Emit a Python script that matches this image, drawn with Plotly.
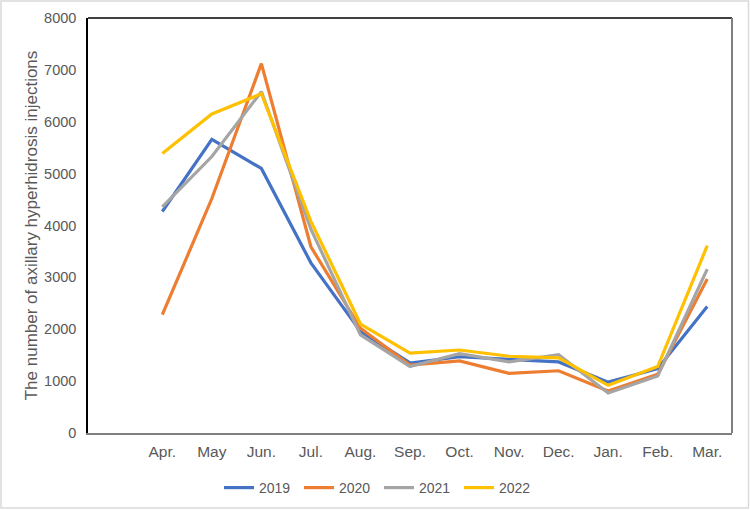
import plotly.graph_objects as go

months = ["Apr.", "May", "Jun.", "Jul.", "Aug.", "Sep.", "Oct.", "Nov.", "Dec.", "Jan.", "Feb.", "Mar."]
y2019 = [4270, 5660, 5100, 3280, 1960, 1350, 1470, 1420, 1370, 980, 1240, 2440]
y2020 = [2280, 4520, 7120, 3590, 2020, 1310, 1390, 1150, 1200, 810, 1130, 2970]
y2021 = [4360, 5330, 6580, 3930, 1890, 1280, 1530, 1370, 1510, 770, 1100, 3160]
y2022 = [5390, 6150, 6540, 4080, 2100, 1540, 1600, 1480, 1450, 920, 1280, 3610]

series = [("2019", y2019, "#4472C4"), ("2020", y2020, "#ED7D31"),
          ("2021", y2021, "#A5A5A5"), ("2022", y2022, "#FFC000")]

fig = go.Figure()
for name, vals, col in series:
    fig.add_trace(go.Scatter(x=months, y=vals, name=name, mode="lines",
                             line=dict(color=col, width=3.2)))

L, R, T, B = 88, 732, 18, 433
W, H = R - L, B - T
def px(x): return (x - L) / W
def py(y): return (B - y) / H

fig.update_layout(
    width=750, height=510,
    margin=dict(l=L, r=750 - R, t=T, b=510 - B, autoexpand=False),
    paper_bgcolor="white", plot_bgcolor="white",
    font=dict(family="Liberation Sans, Arial, sans-serif", color="#595959", size=13),
    showlegend=True,
    legend=dict(orientation="h", x=px(219), xanchor="left", y=py(488), yanchor="middle",
                font=dict(size=14, color="#595959"), entrywidth=35, entrywidthmode="pixels",
                itemwidth=30, bgcolor="rgba(0,0,0,0)"),
    xaxis=dict(type="category", categoryorder="array", categoryarray=months,
               range=[-1.5, 11.5], showgrid=False, showline=True, linecolor="#7F7F7F",
               linewidth=2, ticks="", tickfont=dict(size=15.5, color="#595959"), zeroline=False,
               ticklabelstandoff=3),
    yaxis=dict(range=[0, 8000], dtick=1000, showgrid=False, showline=True, linecolor="#000000",
               linewidth=1.5, ticks="", tickfont=dict(size=14.5, color="#595959"), zeroline=False,
               ticklabelstandoff=7,
               title=dict(text="The number of axillary hyperhidrosis injections",
                          font=dict(size=17, color="#595959"), standoff=2)),
    shapes=[
        dict(type="line", xref="paper", yref="paper", x0=0, x1=1, y0=1, y1=1,
             line=dict(color="#000000", width=1.5)),
        dict(type="line", xref="paper", yref="paper", x0=1, x1=1, y0=0, y1=1,
             line=dict(color="#7F7F7F", width=2)),
        dict(type="rect", xref="paper", yref="paper", x0=px(1), x1=px(748.5), y0=py(1), y1=py(508),
             line=dict(color="#D9D9D9", width=1.5), layer="below"),
    ],
)

fig.write_html("out.html")
